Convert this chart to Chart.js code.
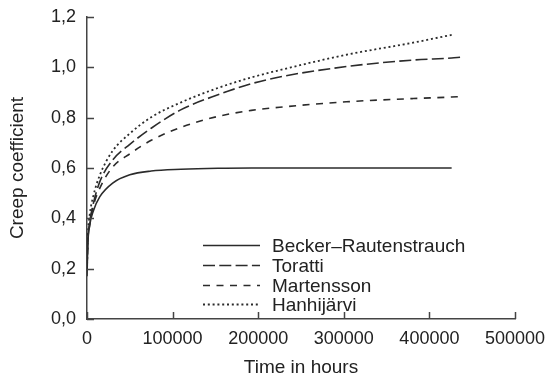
<!DOCTYPE html>
<html>
<head>
<meta charset="utf-8">
<script src="https://cdn.jsdelivr.net/npm/chart.js@4.4.0/dist/chart.umd.min.js"></script>
<style>
  html, body { margin: 0; padding: 0; background: #fff; }
  #wrap { width: 546px; height: 376px; }
</style>
</head>
<body>
<div id="wrap"><canvas id="creep" width="546" height="376"></canvas></div>
<script>
// time axis (hours) shared by all curves
var hours      = [0, 1000, 3000, 7500, 15000, 30000, 50000, 75000, 110000, 153000, 192000, 230000, 303000, 381000, 426000, 436000];
var becker     = [0.17, 0.30, 0.37, 0.43, 0.486, 0.54, 0.573, 0.588, 0.595, 0.599, 0.60, 0.60, 0.60, 0.60, 0.60, null];
var toratti    = [0.20, 0.31, 0.38, 0.46, 0.546, 0.632, 0.694, 0.758, 0.832, 0.891, 0.935, 0.965, 1.003, 1.029, 1.037, 1.040];
var martensson = [0.20, 0.31, 0.37, 0.45, 0.520, 0.604, 0.656, 0.710, 0.762, 0.805, 0.829, 0.843, 0.863, 0.876, 0.882, 0.884];
var hanhijarvi = [0.20, 0.33, 0.41, 0.49, 0.572, 0.668, 0.737, 0.802, 0.861, 0.918, 0.960, 0.993, 1.050, 1.098, 1.129, null];

var seriesNames = ["Becker\u2013Rautenstrauch", "Toratti", "Martensson", "Hanhij\u00e4rvi"];
var xTicks = [0, 100000, 200000, 300000, 400000, 500000];
var yTicks = [0, 0.2, 0.4, 0.6, 0.8, 1.0, 1.2];

var lineColor = "#2b2b2b";
var axisColor = "#444";
var textColor = "#222";
var fontFamily = "'Liberation Sans', Arial, sans-serif";

function points(values) {
    var out = [];
    hours.forEach(function (h, i) {
        if (values[i] !== null) out.push({ x: h, y: values[i] });
    });
    return out;
}

function series(name, values, dash, width) {
    return {
        label: name,
        data: points(values),
        borderColor: lineColor,
        borderWidth: width,
        borderDash: dash,
        pointRadius: 0,
        fill: false,
        cubicInterpolationMode: 'monotone'
    };
}

// small tick marks pointing into the plot
var innerTicks = {
    id: 'innerTicks',
    afterDraw: function (chart) {
        var ctx = chart.ctx, area = chart.chartArea;
        var x = chart.scales.x, y = chart.scales.y;
        ctx.save();
        ctx.strokeStyle = axisColor;
        ctx.lineWidth = 1.5;
        ctx.beginPath();
        x.ticks.forEach(function (t) {
            var px = Math.round(x.getPixelForValue(t.value)) + 0.5;
            ctx.moveTo(px, area.bottom);
            ctx.lineTo(px, area.bottom - 7);
        });
        y.ticks.forEach(function (t) {
            var py = Math.round(y.getPixelForValue(t.value)) + 0.5;
            ctx.moveTo(area.left, py);
            ctx.lineTo(area.left + 7, py);
        });
        ctx.stroke();
        ctx.restore();
    }
};

// legend drawn inside the plot, lower right
var innerLegend = {
    id: 'innerLegend',
    afterDraw: function (chart) {
        var ctx = chart.ctx, area = chart.chartArea;
        var x0 = area.left + 116, len = 57, gap = 12;
        var y0 = area.top + 228, row = 19.8;
        ctx.save();
        ctx.font = "19px " + fontFamily;
        ctx.fillStyle = textColor;
        ctx.textBaseline = 'middle';
        chart.data.datasets.forEach(function (ds, i) {
            var yy = Math.round(y0 + i * row) + 0.5;
            ctx.strokeStyle = ds.borderColor;
            ctx.lineWidth = ds.borderWidth;
            ctx.setLineDash(ds.borderDash);
            ctx.beginPath();
            ctx.moveTo(x0, yy);
            ctx.lineTo(x0 + len, yy);
            ctx.stroke();
            ctx.fillText(ds.label, x0 + len + gap, yy + 1);
        });
        ctx.restore();
    }
};

// keep the plot box where the layout padding puts it
function noLabelPadding(scale) {
    scale.paddingTop = 0;
    scale.paddingBottom = 0;
    scale.paddingLeft = 0;
    scale.paddingRight = 0;
}

new Chart(document.getElementById('creep'), {
    type: 'line',
    data: {
        datasets: [
            series(seriesNames[0], becker, [], 1.6),
            series(seriesNames[1], toratti, [12, 4.3], 1.6),
            series(seriesNames[2], martensson, [7, 6.5], 1.6),
            series(seriesNames[3], hanhijarvi, [2, 2.8], 1.8)
        ]
    },
    options: {
        responsive: false,
        animation: false,
        layout: { padding: { top: 17, right: 31, left: 0, bottom: 0 } },
        plugins: {
            legend: { display: false },
            tooltip: { enabled: false }
        },
        scales: {
            x: {
                type: 'linear',
                min: 0,
                max: 500000,
                afterBuildTicks: function (scale) {
                    scale.ticks = xTicks.map(function (v) { return { value: v }; });
                },
                afterFit: function (scale) { scale.height = 57; noLabelPadding(scale); },
                grid: { drawOnChartArea: false, drawTicks: false },
                border: { display: true, color: axisColor, width: 1.5 },
                ticks: {
                    padding: 9,
                    color: textColor,
                    font: { family: fontFamily, size: 18 },
                    maxRotation: 0,
                    callback: function (v) { return String(v); }
                },
                title: {
                    display: true,
                    text: 'Time in hours',
                    color: textColor,
                    font: { family: fontFamily, size: 19, lineHeight: 0.85 },
                    padding: { top: 0, bottom: 0 }
                }
            },
            y: {
                type: 'linear',
                min: 0,
                max: 1.2,
                afterBuildTicks: function (scale) {
                    scale.ticks = yTicks.map(function (v) { return { value: v }; });
                },
                afterFit: function (scale) { scale.width = 87; noLabelPadding(scale); },
                grid: { drawOnChartArea: false, drawTicks: false },
                border: { display: true, color: axisColor, width: 1.5 },
                ticks: {
                    padding: 11,
                    color: textColor,
                    font: { family: fontFamily, size: 18 },
                    callback: function (v) { return v.toFixed(1).replace('.', ','); }
                },
                title: {
                    display: true,
                    text: 'Creep coefficient',
                    color: textColor,
                    font: { family: fontFamily, size: 19, lineHeight: 1 },
                    padding: { top: 8, bottom: 0 }
                }
            }
        }
    },
    plugins: [innerTicks, innerLegend]
});
</script>
</body>
</html>
